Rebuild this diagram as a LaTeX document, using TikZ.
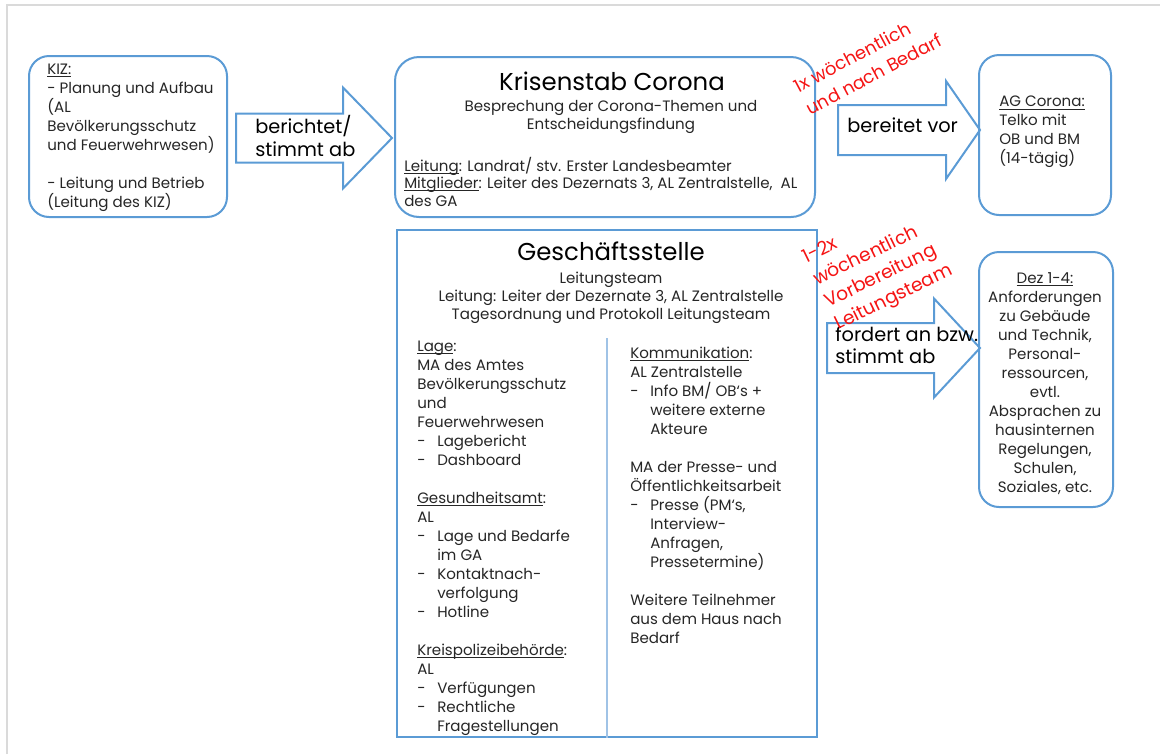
\documentclass[tikz,border=0pt]{standalone}
\usepackage{fontspec}
\setmainfont{Poppins}
\usetikzlibrary{positioning,calc}
\definecolor{boxblue}{RGB}{91,155,213}
\definecolor{divblue}{RGB}{160,195,230}
\definecolor{txtgray}{RGB}{38,38,38}
\definecolor{framegray}{RGB}{218,218,218}
\definecolor{notered}{RGB}{245,20,20}
\newcommand{\px}{0.75pt}
\newcommand{\itm}{\makebox[15pt][l]{-}}
\newcommand{\ind}{\hspace*{15pt}}
\newcommand{\ul}[1]{\underline{\raisebox{0pt}[\height][0pt]{#1}}}
% fat block arrow: tip, total length, head length, body half, head half
\newcommand{\fatarrow}[5]{%
  \draw[arrowline] (#1) -- ++(-#3,-#5) -- ++(0,#5-#4) -- ++(-#2+#3,0)
    -- ++(0,2*#4) -- ++(#2-#3,0) -- ++(0,#5-#4) -- cycle;}
\tikzset{
  roundbox/.style={draw=boxblue, line width=1.5pt, rounded corners=15pt, inner sep=0pt},
  squarebox/.style={draw=boxblue, line width=1.5pt, inner sep=0pt},
  divline/.style={draw=divblue, line width=0.8pt},
  arrowline/.style={draw=boxblue, line width=1.5pt, line join=miter},
  body/.style={font=\fontsize{11.3}{14.25}\selectfont, text=txtgray, inner sep=0pt, align=left, anchor=north west},
  bodyc/.style={body, align=center, anchor=north},
  title/.style={font=\fontsize{18.3}{21}\selectfont, text=black, inner sep=0pt, anchor=north},
  arrowtxt/.style={font=\fontsize{14.5}{17}\selectfont, text=black, inner sep=0pt, align=left, anchor=north west},
  redtxt/.style={font=\fontsize{13.5}{19}\selectfont, text=notered, inner sep=0pt, align=left, anchor=north west}
}

\begin{document}
\begin{tikzpicture}[x=0.75pt, y=-0.75pt]
  \useasboundingbox (0,0) rectangle (1160,754);
  % frame
  \draw[framegray, line width=2.2pt] (7,754) -- (7,5) -- (1160,5);

  % Boxes
  \node[roundbox, minimum width=198*\px, minimum height=161*\px] (kiz) at (128,136.5) {};
  \node[roundbox, rounded corners=18pt, minimum width=420*\px, minimum height=160*\px] (krisen) at (605,137) {};
  \node[roundbox, minimum width=132*\px, minimum height=160*\px] (agc) at (1045,135) {};
  \node[squarebox, minimum width=420*\px, minimum height=507*\px] (gs) at (607,483.5) {};
  \node[roundbox, minimum width=134*\px, minimum height=255*\px] (dez) at (1046,379.5) {};
  \draw[divline] (gs.south) -- ++(0,-400);

  % Texts
  \node[body] (kiztxt) at (47,64) {\ul{KIZ:}\\- Planung und Aufbau\\(AL\\Bevölkerungsschutz\\und Feuerwehrwesen)\\~\\- Leitung und Betrieb\\(Leitung des KIZ)};
  \node[title] (krisentitle) at (612,72) {Krisenstab Corona};
  \node[bodyc, font=\fontsize{11.3}{13.5}\selectfont] (krisensub) at (611,100) {Besprechung der Corona-Themen und\\Entscheidungsfindung};
  \node[body, font=\fontsize{11.3}{13}\selectfont] (krisenlead) at (404,157) {\ul{Leitung}: Landrat/ stv. Erster Landesbeamter\\\ul{Mitglieder}: Leiter des Dezernats 3, AL Zentralstelle,\ \ AL\\des GA};
  \node[body] (agctxt) at (999,96) {\ul{AG Corona:}\\Telko mit\\OB und BM\\(14-tägig)};
  \node[title] (gstitle) at (611,242) {Geschäftsstelle};
  \node[bodyc, font=\fontsize{11.3}{13.5}\selectfont] (gssub) at (611,272) {Leitungsteam\\Leitung: Leiter der Dezernate 3, AL Zentralstelle\\Tagesordnung und Protokoll Leitungsteam};
  \node[body] (lage) at (417,341) {\ul{Lage}:\\MA des Amtes\\Bevölkerungsschutz\\und\\Feuerwehrwesen\\\itm Lagebericht\\\itm Dashboard\\~\\\ul{Gesundheitsamt}:\\AL\\\itm Lage und Bedarfe\\\ind im GA\\\itm Kontaktnach-\\\ind verfolgung\\\itm Hotline\\~\\\ul{Kreispolizeibehörde}:\\AL\\\itm Verfügungen\\\itm Rechtliche\\\ind Fragestellungen};
  \node[body] (komm) at (630,347) {\ul{Kommunikation}:\\AL Zentralstelle\\\itm Info BM/ OB‘s +\\\ind weitere externe\\\ind Akteure\\~\\MA der Presse- und\\Öffentlichkeitsarbeit\\\itm Presse (PM‘s,\\\ind Interview-\\\ind Anfragen,\\\ind Pressetermine)\\~\\Weitere Teilnehmer\\aus dem Haus nach\\Bedarf};
  \node[bodyc] (deztxt) at (1045,272) {\ul{Dez 1-4:}\\Anforderungen\\zu Gebäude\\und Technik,\\Personal-\\ressourcen,\\evtl.\\Absprachen zu\\hausinternen\\Regelungen,\\Schulen,\\Soziales, etc.};

  % Arrows
  \coordinate (tip1) at (392,138);
  \coordinate (tip2) at (980,130);
  \coordinate (tip3) at (980,348);
  \fatarrow{tip1}{156}{49}{24.5}{50.5}
  \fatarrow{tip2}{142}{34}{25}{49}
  \fatarrow{tip3}{153}{46}{25}{49.5}
  \node[arrowtxt] (berichtet) at (255,115) {berichtet/\\stimmt ab};
  \node[arrowtxt] (bereitet) at (847,118) {bereitet vor};
  \node[arrowtxt] (fordert) at (835,326) {fordert an bzw.\\stimmt ab};

  % Notes
  \node[redtxt, rotate=28] (freq1) at (792,81) {1x wöchentlich\\und nach Bedarf};
  \node[redtxt, rotate=26, font=\fontsize{14}{18.5}\selectfont] (freq2) at (800,251) {1-2x\\wöchentlich\\Vorbereitung\\Leitungsteam};
\end{tikzpicture}
\end{document}
